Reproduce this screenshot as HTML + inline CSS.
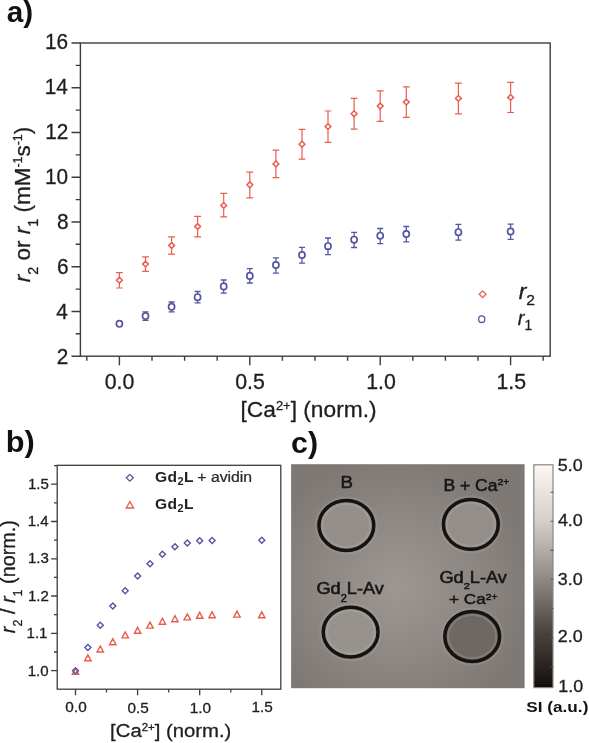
<!DOCTYPE html>
<html><head><meta charset="utf-8"><style>
html,body{margin:0;padding:0;background:#fff;}
svg{display:block;}
text{font-family:"Liberation Sans", sans-serif;}
</style></head><body>
<svg width="589" height="743" viewBox="0 0 589 743" style="will-change:transform;filter:blur(0.3px)">
<rect width="589" height="743" fill="#fff"/>
<rect x="80.4" y="43.0" width="469.8" height="313.2" fill="none" stroke="#3c3c3c" stroke-width="1.4"/>
<path d="M71.5 356.2H80.4M75.7 333.8H80.4M71.5 311.5H80.4M75.7 289.1H80.4M71.5 266.7H80.4M75.7 244.3H80.4M71.5 222.0H80.4M75.7 199.6H80.4M71.5 177.2H80.4M75.7 154.9H80.4M71.5 132.5H80.4M75.7 110.1H80.4M71.5 87.7H80.4M75.7 65.4H80.4M71.5 43.0H80.4M86.8 356.2V360.8M119.4 356.2V365.3M152.0 356.2V360.8M184.6 356.2V360.8M217.2 356.2V360.8M249.8 356.2V365.3M282.4 356.2V360.8M315.0 356.2V360.8M347.6 356.2V360.8M380.2 356.2V365.3M412.8 356.2V360.8M445.4 356.2V360.8M478.0 356.2V360.8M510.6 356.2V365.3M543.2 356.2V360.8" stroke="#3c3c3c" stroke-width="1.4" fill="none"/>
<path d="M119.4 272.7V277.3M119.4 283.1V288.0M116.0 272.7H122.8M116.0 288.0H122.8M145.5 256.8V261.2M145.5 267.0V271.3M142.1 256.8H148.9M142.1 271.3H148.9M171.6 236.8V242.6M171.6 248.4V254.2M168.2 236.8H175.0M168.2 254.2H175.0M197.6 216.3V223.6M197.6 229.4V236.8M194.2 216.3H201.0M194.2 236.8H201.0M223.7 193.3V202.5M223.7 208.3V216.9M220.3 193.3H227.1M220.3 216.9H227.1M249.8 172.1V181.9M249.8 187.7V197.9M246.4 172.1H253.2M246.4 197.9H253.2M275.9 150.1V161.0M275.9 166.8V177.6M272.5 150.1H279.3M272.5 177.6H279.3M302.0 129.3V141.3M302.0 147.1V159.2M298.6 129.3H305.4M298.6 159.2H305.4M328.0 111.0V123.7M328.0 129.5V142.3M324.6 111.0H331.4M324.6 142.3H331.4M354.1 98.3V110.8M354.1 116.6V129.1M350.7 98.3H357.5M350.7 129.1H357.5M380.2 90.8V103.1M380.2 108.9V121.3M376.8 90.8H383.6M376.8 121.3H383.6M406.3 86.9V99.2M406.3 105.0V117.3M402.9 86.9H409.7M402.9 117.3H409.7M458.4 83.1V95.5M458.4 101.3V113.9M455.0 83.1H461.8M455.0 113.9H461.8M510.6 82.35V94.5M510.6 100.3V112.5M507.2 82.35H514.0M507.2 112.5H514.0" stroke="#e75e4f" stroke-width="1.2" fill="none"/>
<path d="M119.4 277.3L122.3 280.2L119.4 283.1L116.5 280.2ZM145.5 261.2L148.4 264.1L145.5 267.0L142.6 264.1ZM171.6 242.6L174.5 245.5L171.6 248.4L168.7 245.5ZM197.6 223.6L200.5 226.5L197.6 229.4L194.7 226.5ZM223.7 202.5L226.6 205.4L223.7 208.3L220.8 205.4ZM249.8 181.9L252.7 184.8L249.8 187.7L246.9 184.8ZM275.9 161.0L278.8 163.9L275.9 166.8L273.0 163.9ZM302.0 141.3L304.9 144.2L302.0 147.1L299.1 144.2ZM328.0 123.7L330.9 126.6L328.0 129.5L325.1 126.6ZM354.1 110.8L357.0 113.7L354.1 116.6L351.2 113.7ZM380.2 103.1L383.1 106.0L380.2 108.9L377.3 106.0ZM406.3 99.2L409.2 102.1L406.3 105.0L403.4 102.1ZM458.4 95.5L461.3 98.4L458.4 101.3L455.5 98.4ZM510.6 94.5L513.5 97.4L510.6 100.3L507.7 97.4Z" stroke="#e75e4f" stroke-width="1.5" fill="#fff"/>
<path d="M145.5 311.8V312.8M145.5 319.4V320.4M142.5 311.8H148.5M142.5 320.4H148.5M171.6 302.0V303.5M171.6 310.1V311.8M168.6 302.0H174.6M168.6 311.8H174.6M197.6 291.5V293.9M197.6 300.5V302.9M194.6 291.5H200.6M194.6 302.9H200.6M223.7 280.0V283.1M223.7 289.7V293.2M220.7 280.0H226.7M220.7 293.2H226.7M249.8 268.7V272.6M249.8 279.2V283.0M246.8 268.7H252.8M246.8 283.0H252.8M275.9 257.8V261.7M275.9 268.3V273.2M272.9 257.8H278.9M272.9 273.2H278.9M302.0 247.3V251.7M302.0 258.3V263.2M299.0 247.3H305.0M299.0 263.2H305.0M328.0 238.0V242.9M328.0 249.5V254.7M325.0 238.0H331.0M325.0 254.7H331.0M354.1 232.3V236.4M354.1 243.0V247.5M351.1 232.3H357.1M351.1 247.5H357.1M380.2 228.5V232.4M380.2 239.0V243.7M377.2 228.5H383.2M377.2 243.7H383.2M406.3 226.5V230.7M406.3 237.3V241.8M403.3 226.5H409.3M403.3 241.8H409.3M458.4 224.4V228.9M458.4 235.5V240.1M455.4 224.4H461.4M455.4 240.1H461.4M510.6 224.2V228.2M510.6 234.8V239.4M507.6 224.2H513.6M507.6 239.4H513.6" stroke="#5656a0" stroke-width="1.3" fill="none"/>
<ellipse cx="119.4" cy="323.8" rx="3.05" ry="3.2" stroke="#5656a0" stroke-width="1.7" fill="#fff"/>
<ellipse cx="145.5" cy="316.1" rx="3.05" ry="3.2" stroke="#5656a0" stroke-width="1.7" fill="#fff"/>
<ellipse cx="171.6" cy="306.8" rx="3.05" ry="3.2" stroke="#5656a0" stroke-width="1.7" fill="#fff"/>
<ellipse cx="197.6" cy="297.2" rx="3.05" ry="3.2" stroke="#5656a0" stroke-width="1.7" fill="#fff"/>
<ellipse cx="223.7" cy="286.4" rx="3.05" ry="3.2" stroke="#5656a0" stroke-width="1.7" fill="#fff"/>
<ellipse cx="249.8" cy="275.9" rx="3.05" ry="3.2" stroke="#5656a0" stroke-width="1.7" fill="#fff"/>
<ellipse cx="275.9" cy="265.0" rx="3.05" ry="3.2" stroke="#5656a0" stroke-width="1.7" fill="#fff"/>
<ellipse cx="302.0" cy="255.0" rx="3.05" ry="3.2" stroke="#5656a0" stroke-width="1.7" fill="#fff"/>
<ellipse cx="328.0" cy="246.2" rx="3.05" ry="3.2" stroke="#5656a0" stroke-width="1.7" fill="#fff"/>
<ellipse cx="354.1" cy="239.7" rx="3.05" ry="3.2" stroke="#5656a0" stroke-width="1.7" fill="#fff"/>
<ellipse cx="380.2" cy="235.7" rx="3.05" ry="3.2" stroke="#5656a0" stroke-width="1.7" fill="#fff"/>
<ellipse cx="406.3" cy="234.0" rx="3.05" ry="3.2" stroke="#5656a0" stroke-width="1.7" fill="#fff"/>
<ellipse cx="458.4" cy="232.2" rx="3.05" ry="3.2" stroke="#5656a0" stroke-width="1.7" fill="#fff"/>
<ellipse cx="510.6" cy="231.5" rx="3.05" ry="3.2" stroke="#5656a0" stroke-width="1.7" fill="#fff"/>
<path d="M482.6 290.90000000000003L486.0 294.3L482.6 297.7L479.20000000000005 294.3Z" stroke="#e75e4f" stroke-width="1.3" fill="#fff"/>
<ellipse cx="481.7" cy="319.2" rx="3.1" ry="3.3" stroke="#5656a0" stroke-width="1.3" fill="#fff"/>
<rect x="57.2" y="465.3" width="223.6" height="223.9" fill="none" stroke="#3c3c3c" stroke-width="1.3"/>
<path d="M51.1 670.6H57.2M54.0 652.0H57.2M51.1 633.3H57.2M54.0 614.7H57.2M51.1 596.0H57.2M54.0 577.4H57.2M51.1 558.8H57.2M54.0 540.1H57.2M51.1 521.5H57.2M54.0 502.8H57.2M51.1 484.2H57.2M54.0 465.6H57.2M75.5 689.2V695.2M106.5 689.2V692.5M137.6 689.2V695.2M168.7 689.2V692.5M199.7 689.2V695.2M230.8 689.2V692.5M261.8 689.2V695.2" stroke="#3c3c3c" stroke-width="1.3" fill="none"/>
<path d="M75.5 668.4L78.7 674.4L72.3 674.4ZM87.9 654.8L91.1 660.8L84.7 660.8ZM100.3 646.0L103.5 652.0L97.1 652.0ZM112.8 638.7L116.0 644.7L109.6 644.7ZM125.2 631.9L128.4 637.9L122.0 637.9ZM137.6 627.3L140.8 633.3L134.4 633.3ZM150.0 622.1L153.2 628.1L146.8 628.1ZM162.4 618.2L165.6 624.2L159.2 624.2ZM174.9 615.7L178.1 621.7L171.7 621.7ZM187.3 613.9L190.5 619.9L184.1 619.9ZM199.7 612.3L202.9 618.3L196.5 618.3ZM212.1 611.8L215.3 617.8L208.9 617.8ZM237.0 611.1L240.2 617.1L233.8 617.1ZM261.8 611.8L265.0 617.8L258.6 617.8Z" stroke="#e75e4f" stroke-width="1.4" fill="none"/>
<path d="M75.5 667.8L78.5 670.8L75.5 673.8L72.5 670.8ZM87.9 644.6L90.9 647.6L87.9 650.6L84.9 647.6ZM100.3 622.3L103.3 625.3L100.3 628.3L97.3 625.3ZM112.8 603.0L115.8 606.0L112.8 609.0L109.8 606.0ZM125.2 587.7L128.2 590.7L125.2 593.7L122.2 590.7ZM137.6 573.0L140.6 576.0L137.6 579.0L134.6 576.0ZM150.0 560.8L153.0 563.8L150.0 566.8L147.0 563.8ZM162.4 551.3L165.4 554.3L162.4 557.3L159.4 554.3ZM174.9 543.8L177.9 546.8L174.9 549.8L171.9 546.8ZM187.3 539.9L190.3 542.9L187.3 545.9L184.3 542.9ZM199.7 537.7L202.7 540.7L199.7 543.7L196.7 540.7ZM212.1 537.4L215.1 540.4L212.1 543.4L209.1 540.4ZM261.8 537.2L264.8 540.2L261.8 543.2L258.8 540.2Z" stroke="#5656a0" stroke-width="1.4" fill="none"/>
<path d="M129.8 474.40000000000003L133.3 477.8L129.8 481.2L126.30000000000001 477.8Z" stroke="#5656a0" stroke-width="1.3" fill="none"/>
<path d="M129.9 501.6L133.6 508.0L126.2 508.0Z" stroke="#e75e4f" stroke-width="1.3" fill="none"/>
<defs>
<radialGradient id="g1" cx="0.45" cy="0.55" r="0.6">
<stop offset="0" stop-color="#9c9793"/><stop offset="0.55" stop-color="#8c8783"/><stop offset="1" stop-color="#7d7874"/>
</radialGradient>
<linearGradient id="cb" x1="0" y1="0" x2="0" y2="1">
<stop offset="0" stop-color="#fcf7f4"/><stop offset="0.25" stop-color="#d6cfca"/><stop offset="0.5" stop-color="#948c87"/>
<stop offset="0.75" stop-color="#4a4440"/><stop offset="0.9" stop-color="#2a2522"/><stop offset="1" stop-color="#110d0b"/>
</linearGradient>
</defs>
<rect x="291.1" y="464.2" width="233.5" height="224.0" fill="url(#g1)"/>
<ellipse cx="346.35" cy="525.5" rx="27.4" ry="24.9" fill="#948f8b" stroke="#151210" stroke-width="3.5"/>
<ellipse cx="346.35" cy="525.5" rx="24.0" ry="21.5" fill="none" stroke="#c8c3be" stroke-opacity="0.22" stroke-width="2"/>
<ellipse cx="346.35" cy="525.5" rx="30.6" ry="28.1" fill="none" stroke="#c8c3be" stroke-opacity="0.15" stroke-width="2"/>
<ellipse cx="470.85" cy="524.35" rx="27.4" ry="24.9" fill="#938e8a" stroke="#151210" stroke-width="3.5"/>
<ellipse cx="470.85" cy="524.35" rx="24.0" ry="21.5" fill="none" stroke="#c8c3be" stroke-opacity="0.22" stroke-width="2"/>
<ellipse cx="470.85" cy="524.35" rx="30.6" ry="28.1" fill="none" stroke="#c8c3be" stroke-opacity="0.15" stroke-width="2"/>
<ellipse cx="350.65" cy="632.05" rx="27.4" ry="24.9" fill="#97928e" stroke="#151210" stroke-width="3.5"/>
<ellipse cx="350.65" cy="632.05" rx="24.0" ry="21.5" fill="none" stroke="#c8c3be" stroke-opacity="0.22" stroke-width="2"/>
<ellipse cx="350.65" cy="632.05" rx="30.6" ry="28.1" fill="none" stroke="#c8c3be" stroke-opacity="0.15" stroke-width="2"/>
<ellipse cx="472.2" cy="636.5" rx="27.4" ry="24.9" fill="#6e6864" stroke="#151210" stroke-width="3.5"/>
<ellipse cx="472.2" cy="636.5" rx="24.0" ry="21.5" fill="none" stroke="#c8c3be" stroke-opacity="0.22" stroke-width="2"/>
<ellipse cx="472.2" cy="636.5" rx="30.6" ry="28.1" fill="none" stroke="#c8c3be" stroke-opacity="0.15" stroke-width="2"/>
<rect x="533.8" y="464.8" width="19.2" height="222.8" fill="url(#cb)" stroke="#8a8682" stroke-width="1.2"/>
<path d="M550.6 492.3H553.4M550.6 521.2H553.4M550.6 550.4H553.4M550.6 579.3H553.4M550.6 608.5H553.4M550.6 637.6H553.4M550.6 666.8H553.4" stroke="#555" stroke-width="1.1"/>
<g transform="translate(6.73,22.44) scale(1.0255,1.0092)"><text font-size="29" font-weight="bold" fill="#111">a)</text></g>
<g transform="translate(45.06,49.32) scale(0.9447,0.9791)"><text font-size="22" fill="#1e1e1e" stroke="#1e1e1e" stroke-width="0.3">16</text></g>
<g transform="translate(44.63,94.49) scale(0.9447,0.9791)"><text font-size="22" fill="#1e1e1e" stroke="#1e1e1e" stroke-width="0.3">14</text></g>
<g transform="translate(45.30,139.12) scale(0.9447,0.9791)"><text font-size="22" fill="#1e1e1e" stroke="#1e1e1e" stroke-width="0.3">12</text></g>
<g transform="translate(45.06,183.99) scale(0.9447,0.9791)"><text font-size="22" fill="#1e1e1e" stroke="#1e1e1e" stroke-width="0.3">10</text></g>
<g transform="translate(56.94,228.67) scale(0.9447,0.9791)"><text font-size="22" fill="#1e1e1e" stroke="#1e1e1e" stroke-width="0.3">8</text></g>
<g transform="translate(56.94,273.67) scale(0.9447,0.9791)"><text font-size="22" fill="#1e1e1e" stroke="#1e1e1e" stroke-width="0.3">6</text></g>
<g transform="translate(56.20,318.52) scale(0.9447,0.9791)"><text font-size="22" fill="#1e1e1e" stroke="#1e1e1e" stroke-width="0.3">4</text></g>
<g transform="translate(56.67,363.57) scale(0.9447,0.9791)"><text font-size="22" fill="#1e1e1e" stroke="#1e1e1e" stroke-width="0.3">2</text></g>
<g transform="translate(104.71,388.72) scale(0.9686,0.9827)"><text font-size="22" fill="#1e1e1e" stroke="#1e1e1e" stroke-width="0.3">0.0</text></g>
<g transform="translate(235.28,388.72) scale(0.9686,0.9827)"><text font-size="22" fill="#1e1e1e" stroke="#1e1e1e" stroke-width="0.3">0.5</text></g>
<g transform="translate(366.14,388.60) scale(0.9686,0.9827)"><text font-size="22" fill="#1e1e1e" stroke="#1e1e1e" stroke-width="0.3">1.0</text></g>
<g transform="translate(496.42,388.50) scale(0.9686,0.9827)"><text font-size="22" fill="#1e1e1e" stroke="#1e1e1e" stroke-width="0.3">1.5</text></g>
<g transform="translate(240.55,417.44) scale(1.0338,1.0024)"><text font-size="22" fill="#1e1e1e" stroke="#1e1e1e" stroke-width="0.3">[Ca<tspan font-size="12.5" dy="-7.5">2+</tspan><tspan dy="7.5">] (norm.)</tspan></text></g>
<g transform="translate(30.13,282.26) scale(0.9899,1.0243)"><g transform="rotate(-90)"><text font-size="22" fill="#1e1e1e" stroke="#1e1e1e" stroke-width="0.3"><tspan font-style="italic">r</tspan><tspan font-size="14" dy="8">2</tspan><tspan dy="-8"> or </tspan><tspan font-style="italic">r</tspan><tspan font-size="14" dy="8">1</tspan><tspan dy="-8"> (mM</tspan><tspan font-size="12" dy="-8">-1</tspan><tspan dy="8">s</tspan><tspan font-size="12" dy="-8">-1</tspan><tspan dy="8">)</tspan></text></g></g>
<g transform="translate(518.64,299.43) scale(1.0441,0.9690)"><text font-size="22" fill="#1e1e1e" stroke="#1e1e1e" stroke-width="0.3"><tspan font-style="italic">r</tspan><tspan font-size="15" dy="5.4">2</tspan></text></g>
<g transform="translate(517.77,324.59) scale(0.9153,0.9408)"><text font-size="22" fill="#1e1e1e" stroke="#1e1e1e" stroke-width="0.3"><tspan font-style="italic">r</tspan><tspan font-size="15" dy="5.4">1</tspan></text></g>
<g transform="translate(5.68,452.18) scale(1.0968,1.0462)"><text font-size="28" font-weight="bold" fill="#111">b)</text></g>
<g transform="translate(27.97,488.53) scale(1.0038,0.9721)"><text font-size="15" fill="#1e1e1e" stroke="#1e1e1e" stroke-width="0.3">1.5</text></g>
<g transform="translate(27.97,601.13) scale(1.0038,0.9721)"><text font-size="15" fill="#1e1e1e" stroke="#1e1e1e" stroke-width="0.3">1.2</text></g>
<g transform="translate(27.72,675.53) scale(1.0038,0.9721)"><text font-size="15" fill="#1e1e1e" stroke="#1e1e1e" stroke-width="0.3">1.0</text></g>
<g transform="translate(26.57,638.48) scale(1.0038,0.9721)"><text font-size="15" fill="#1e1e1e" stroke="#1e1e1e" stroke-width="0.3">1.1</text></g>
<g transform="translate(27.97,563.44) scale(1.0038,0.9721)"><text font-size="15" fill="#1e1e1e" stroke="#1e1e1e" stroke-width="0.3">1.3</text></g>
<g transform="translate(27.72,526.16) scale(1.0038,0.9721)"><text font-size="15" fill="#1e1e1e" stroke="#1e1e1e" stroke-width="0.3">1.4</text></g>
<g transform="translate(65.35,712.09) scale(1.0239,0.9349)"><text font-size="15" fill="#1e1e1e" stroke="#1e1e1e" stroke-width="0.3">0.0</text></g>
<g transform="translate(127.53,712.59) scale(1.0239,0.9349)"><text font-size="15" fill="#1e1e1e" stroke="#1e1e1e" stroke-width="0.3">0.5</text></g>
<g transform="translate(189.64,712.59) scale(1.0239,0.9349)"><text font-size="15" fill="#1e1e1e" stroke="#1e1e1e" stroke-width="0.3">1.0</text></g>
<g transform="translate(251.52,712.44) scale(1.0239,0.9349)"><text font-size="15" fill="#1e1e1e" stroke="#1e1e1e" stroke-width="0.3">1.5</text></g>
<g transform="translate(110.10,737.23) scale(1.0407,0.9813)"><text font-size="19.5" fill="#1e1e1e" stroke="#1e1e1e" stroke-width="0.3">[Ca<tspan font-size="11" dy="-6.5">2+</tspan><tspan dy="6.5">] (norm.)</tspan></text></g>
<g transform="translate(15.44,633.16) scale(1.0173,1.0439)"><g transform="rotate(-90)"><text font-size="19" fill="#1e1e1e" stroke="#1e1e1e" stroke-width="0.3"><tspan font-style="italic">r</tspan><tspan font-size="12" dy="6">2</tspan><tspan dy="-6"> / </tspan><tspan font-style="italic">r</tspan><tspan font-size="12" dy="6">1</tspan><tspan dy="-6"> (norm.)</tspan></text></g></g>
<g transform="translate(154.98,481.84) scale(1.0389,1.0175)"><text font-size="15" font-weight="bold" fill="#1e1e1e" letter-spacing="0.4">Gd<tspan font-size="10.5" dy="3.5">2</tspan><tspan dy="-3.5">L</tspan></text></g>
<g transform="translate(154.98,508.56) scale(1.0389,1.0105)"><text font-size="15" font-weight="bold" fill="#1e1e1e" letter-spacing="0.4">Gd<tspan font-size="10.5" dy="3.5">2</tspan><tspan dy="-3.5">L</tspan></text></g>
<g transform="translate(197.36,481.56) scale(1.0878,0.9545)"><text font-size="14.5" fill="#2a2a2a" stroke="#2a2a2a" stroke-width="0.25">+ avidin</text></g>
<g transform="translate(291.11,452.51) scale(1.0889,1.0423)"><text font-size="28" font-weight="bold" fill="#111">c)</text></g>
<g transform="translate(340.50,488.14) scale(1.0974,1.0204)"><text font-size="17" fill="#181614" stroke="#181614" stroke-width="0.55">B</text></g>
<g transform="translate(443.47,490.72) scale(1.0311,0.9585)"><text font-size="17" fill="#181614" stroke="#181614" stroke-width="0.55">B + Ca<tspan font-size="10" dy="-5.5">2+</tspan></text></g>
<g transform="translate(316.45,593.55) scale(1.1016,1.0000)"><text font-size="16.5" fill="#181614" stroke="#181614" stroke-width="0.55">Gd<tspan font-size="10" dy="8">2</tspan><tspan dy="-8">L-Av</tspan></text></g>
<g transform="translate(439.45,583.05) scale(1.1016,0.9838)"><text font-size="16.5" fill="#181614" stroke="#181614" stroke-width="0.55">Gd<tspan font-size="10" dy="6">2</tspan><tspan dy="-6">L-Av</tspan></text></g>
<g transform="translate(449.08,604.03) scale(1.0370,0.9360)"><text font-size="16.5" fill="#181614" stroke="#181614" stroke-width="0.55">+ Ca<tspan font-size="10" dy="-4">2+</tspan></text></g>
<g transform="translate(557.85,471.15) scale(1.1190,1.0128)"><text font-size="16" fill="#1e1e1e" stroke="#1e1e1e" stroke-width="0.3">5.0</text></g>
<g transform="translate(557.89,525.75) scale(1.1190,1.0128)"><text font-size="16" fill="#1e1e1e" stroke="#1e1e1e" stroke-width="0.3">4.0</text></g>
<g transform="translate(557.75,585.25) scale(1.1190,1.0128)"><text font-size="16" fill="#1e1e1e" stroke="#1e1e1e" stroke-width="0.3">3.0</text></g>
<g transform="translate(557.76,642.05) scale(1.1190,1.0128)"><text font-size="16" fill="#1e1e1e" stroke="#1e1e1e" stroke-width="0.3">2.0</text></g>
<g transform="translate(558.32,691.70) scale(1.1190,1.0128)"><text font-size="16" fill="#1e1e1e" stroke="#1e1e1e" stroke-width="0.3">1.0</text></g>
<g transform="translate(526.33,712.03) scale(1.1453,0.9891)"><text font-size="15" font-weight="bold" fill="#111">SI (a.u.)</text></g>
</svg>
</body></html>
